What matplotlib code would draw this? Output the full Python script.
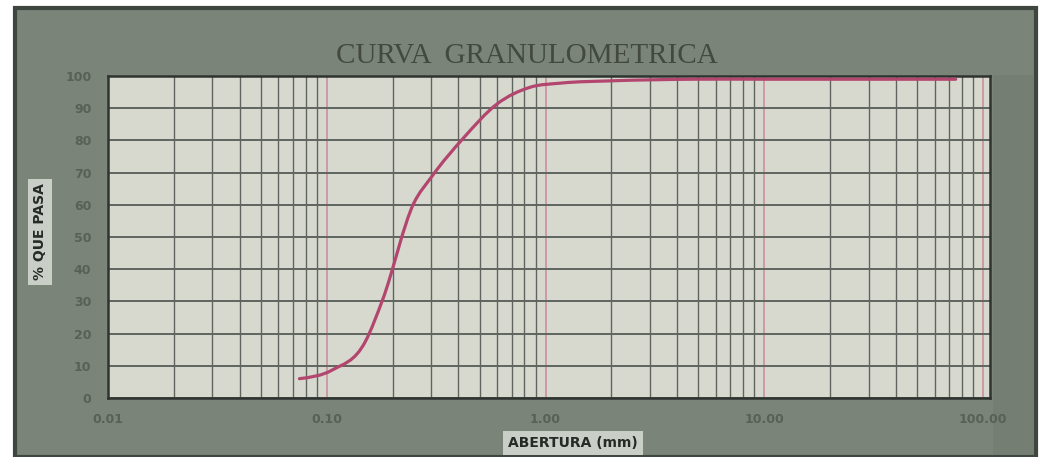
import numpy as np
import matplotlib
matplotlib.use("Agg")
from matplotlib import pyplot as plt
from matplotlib.patches import Rectangle, PathPatch
from matplotlib.path import Path
from matplotlib.ticker import LogLocator, NullFormatter

# sieve openings (mm) and cumulative % passing
abertura = [0.075, 0.106, 0.15, 0.18, 0.25, 0.30, 0.425, 0.60, 0.85, 1.18, 2.00,
            4.75, 9.5, 19.0, 37.5, 75.0]
pasa = [6.0, 8.7, 17.5, 30.5, 60.5, 68.5, 81.0, 91.3, 96.5, 97.8, 98.5,
        99.0, 99.0, 99.0, 99.0, 99.0]

x_ticks = [0.01, 0.1, 1, 10, 100]
x_tick_labels = ["0.01", "0.10", "1.00", "10.00", "100.00"]
y_ticks = list(range(0, 101, 10))

frame_col = '#7a8478'
edge_col = '#3f453f'
plot_bg = '#d7d9cf'
grid_col = '#5f655e'
major_x_col = '#c98fa0'
curve_col = '#b3466f'
label_col = '#596057'

W, H = 1039, 457
fig = plt.figure(figsize=(W / 100, H / 100), dpi=100)
fig.patch.set_facecolor('white')

# outer chart frame
fig.patches.append(Rectangle((15 / W, 0), 1021 / W, 449 / H, transform=fig.transFigure,
                             facecolor=frame_col, edgecolor=edge_col, linewidth=3, zorder=-2))
fig.patches.append(Rectangle((993 / W, 2 / H), 40 / W, 380 / H, transform=fig.transFigure,
                             facecolor='#6c746b', edgecolor='none', alpha=0.35, zorder=-1))

ax = fig.add_axes([108 / W, 59 / H, 882 / W, 322 / H])
ax.set_zorder(2)
ax.set_facecolor(plot_bg)
ax.set_xscale('log')
ax.set_xlim(0.01, 107.6)
ax.set_ylim(0, 100)

ax.set_xticks(x_ticks)
ax.set_xticklabels(x_tick_labels)
ax.xaxis.set_minor_locator(LogLocator(base=10, subs=np.arange(2, 10)))
ax.xaxis.set_minor_formatter(NullFormatter())
ax.set_yticks(y_ticks)
ax.tick_params(which='both', length=0)
ax.tick_params(axis='x', pad=11, labelsize=9, labelcolor=label_col)
ax.tick_params(axis='y', pad=12, labelsize=9, labelcolor=label_col)
for lbl in ax.get_xticklabels() + ax.get_yticklabels():
    lbl.set_fontweight('bold')

ax.grid(which='minor', axis='x', color=grid_col, linewidth=1.0)
ax.grid(which='major', axis='x', color=major_x_col, linewidth=1.2)
ax.grid(which='major', axis='y', color=grid_col, linewidth=1.4)
ax.set_axisbelow(True)
for sp in ax.spines.values():
    sp.set_color('#2f332f')
    sp.set_linewidth(1.8)

# smoothed curve: cubic hermite in log-x space (three-point tangents),
# written out as bezier segments
lx = np.log10(abertura)
py = np.array(pasa)
h = np.diff(lx)
d = np.diff(py) / h
m = np.zeros_like(py)
for i in range(1, len(py) - 1):
    m[i] = (h[i] * d[i - 1] + h[i - 1] * d[i]) / (h[i - 1] + h[i])
m[0] = d[0] / 2
m[-1] = d[-1] / 2

verts = [(lx[0], py[0])]
codes = [Path.MOVETO]
for i in range(len(py) - 1):
    verts += [(lx[i] + h[i] / 3, py[i] + m[i] * h[i] / 3),
              (lx[i + 1] - h[i] / 3, py[i + 1] - m[i + 1] * h[i] / 3),
              (lx[i + 1], py[i + 1])]
    codes += [Path.CURVE4] * 3
verts = np.array(verts)
verts[:, 0] = 10 ** verts[:, 0]
ax.add_patch(PathPatch(Path(verts, codes), fill=False, edgecolor=curve_col,
                       linewidth=2.3, capstyle='round', zorder=3))

fig.text(527 / W, 1 - 56 / H, "CURVA  GRANULOMETRICA", family='Liberation Serif',
         fontsize=21, color='#434941', ha='center', va='center', zorder=3)

box = dict(boxstyle='square,pad=0.35', facecolor='#c9cec6', edgecolor='none')
fig.text(40 / W, 1 - 232 / H, "% QUE PASA", rotation=90, fontsize=10, fontweight='bold',
         color='#262a26', ha='center', va='center', bbox=box, zorder=3)
fig.text(573 / W, 1 - 443 / H, "ABERTURA (mm)", fontsize=10, fontweight='bold',
         color='#262a26', ha='center', va='center', bbox=box, zorder=3)

fig.savefig('out.png', dpi=100, facecolor=fig.get_facecolor())
